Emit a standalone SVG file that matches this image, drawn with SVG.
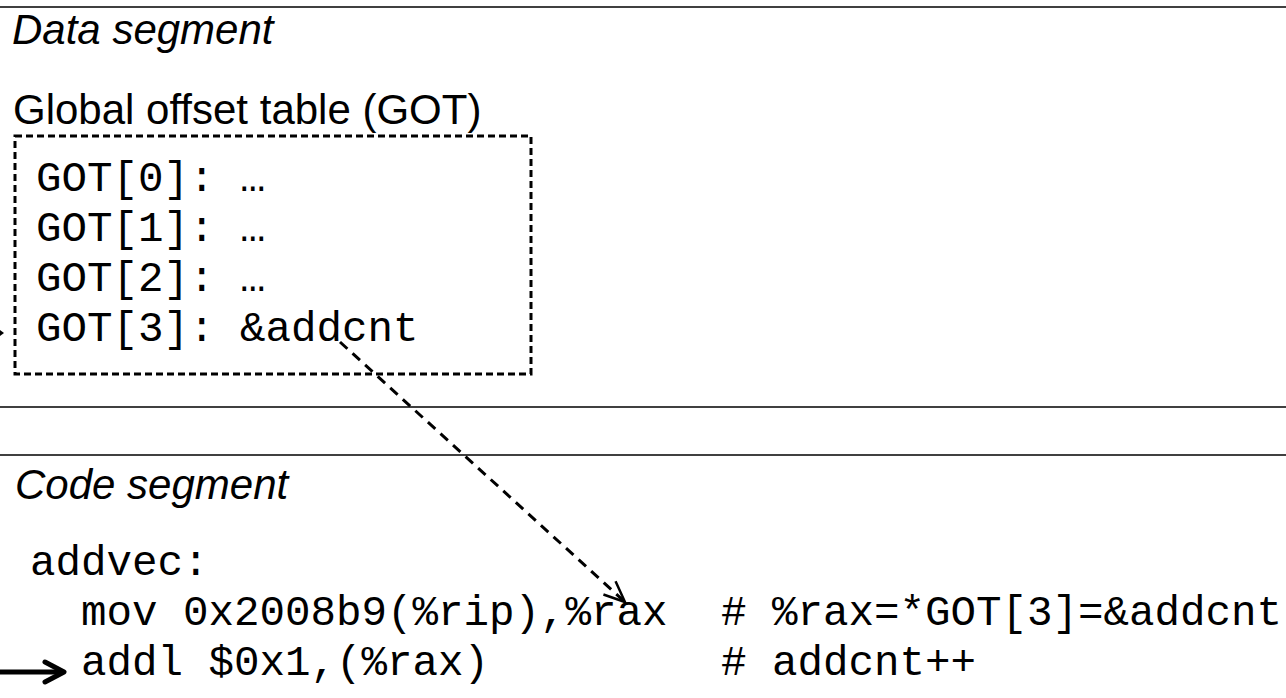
<svg xmlns="http://www.w3.org/2000/svg" width="1286" height="698" viewBox="0 0 1286 698">
<defs>
<style>
.sans{font-family:"Liberation Sans",Arial,sans-serif;font-size:42px;fill:#000}
.it{font-style:italic}
.mono{font-family:"Courier New","Liberation Mono",monospace;font-size:42.5px;fill:#000}
.rule{stroke:#000;stroke-width:1.5}
.dash{fill:none;stroke:#000;stroke-width:3}
</style>
<marker id="open" markerUnits="userSpaceOnUse" markerWidth="30" markerHeight="30" refX="22" refY="10" orient="auto" viewBox="0 0 30 20">
<path d="M1,1 L22,10 L1,19" fill="none" stroke="#000" stroke-width="2.5"/>
</marker>
</defs>
<rect width="1286" height="698" fill="#fff"/>
<g id="rules">
<line class="rule" x1="0" y1="7" x2="1286" y2="7"/>
<line class="rule" x1="0" y1="407" x2="1286" y2="407"/>
<line class="rule" x1="0" y1="455" x2="1286" y2="455"/>
</g>
<g id="data-segment">
<text class="sans it" x="12" y="44">Data segment</text>
</g>
<g id="got">
<text class="sans" x="13" y="124">Global offset table (GOT)</text>
<rect class="dash" x="15" y="136" width="516" height="238" stroke-dasharray="7,4"/>
<text class="mono" x="36" y="191">GOT[0]: …</text>
<text class="mono" x="36" y="241">GOT[1]: …</text>
<text class="mono" x="36" y="291">GOT[2]: …</text>
<text class="mono" x="36" y="341">GOT[3]: &amp;addcnt</text>
</g>
<g id="code-segment">
<text class="sans it" x="15" y="499">Code segment</text>
<text class="mono" x="30" y="575">addvec:</text>
<text class="mono" x="81" y="625">mov 0x2008b9(%rip),%rax</text>
<text class="mono" x="721" y="625"># %rax=*GOT[3]=&amp;addcnt</text>
<text class="mono" x="81" y="675">addl $0x1,(%rax)</text>
<text class="mono" x="721" y="675"># addcnt++</text>
</g>
<g id="connectors">
<line class="dash" x1="340" y1="342" x2="625" y2="602" stroke-width="2.5" stroke-dasharray="10,7" marker-end="url(#open)"/>
<path d="M0,330 L4,333 L0,336 Z" fill="#000"/>
<line x1="0" y1="672" x2="62" y2="672" stroke="#000" stroke-width="5"/>
<path d="M45,662 L64,672 L45,682" fill="none" stroke="#000" stroke-width="5" stroke-linecap="round" stroke-linejoin="round"/>
</g>
</svg>
